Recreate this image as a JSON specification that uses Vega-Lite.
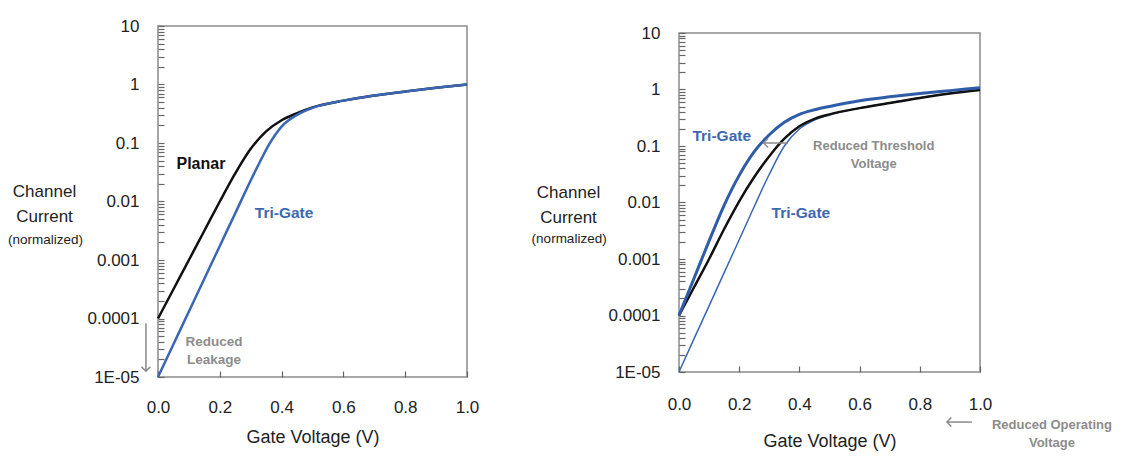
{
  "$schema": "https://vega.github.io/schema/vega-lite/v6.json",
  "padding": {"left": 7, "top": 16, "right": 0, "bottom": 0},
  "background": "white",
  "spacing": 50,
  "resolve": {"scale": {"x": "independent", "y": "independent"}},
  "config": {
    "font": "Liberation Sans",
    "view": {"stroke": "#8a8a8a", "strokeWidth": 1.5},
    "axis": {"domain": false, "grid": false, "ticks": true, "tickColor": "#666666", "tickSize": -6, "tickWidth": 1.2,
      "labelFont": "Liberation Sans", "labelFontSize": 17, "labelColor": "#222222",
      "titleFont": "Liberation Sans", "titleFontWeight": "normal", "titleColor": "#222222",
      "labelOverlap": false, "labelFlush": false},
    "axisX": {"labelPadding": 28, "titleFontSize": 18, "titlePadding": 13},
    "axisY": {"labelPadding": 25, "titleFontSize": 17, "titleAngle": 0, "titleAlign": "center", "titleBaseline": "middle", "titleLineHeight": 25}
  },
  "datasets": {
    "curves": [
      {"panel": "L", "series": "planar", "v": 0, "i": 0.0001},
      {"panel": "L", "series": "planar", "v": 0.05, "i": 0.000316},
      {"panel": "L", "series": "planar", "v": 0.1, "i": 0.001},
      {"panel": "L", "series": "planar", "v": 0.15, "i": 0.00316},
      {"panel": "L", "series": "planar", "v": 0.2, "i": 0.01},
      {"panel": "L", "series": "planar", "v": 0.25, "i": 0.0302},
      {"panel": "L", "series": "planar", "v": 0.3, "i": 0.0794},
      {"panel": "L", "series": "planar", "v": 0.35, "i": 0.158},
      {"panel": "L", "series": "planar", "v": 0.4, "i": 0.245},
      {"panel": "L", "series": "planar", "v": 0.45, "i": 0.324},
      {"panel": "L", "series": "planar", "v": 0.5, "i": 0.407},
      {"panel": "L", "series": "planar", "v": 0.6, "i": 0.53},
      {"panel": "L", "series": "planar", "v": 0.7, "i": 0.65},
      {"panel": "L", "series": "planar", "v": 0.8, "i": 0.76},
      {"panel": "L", "series": "planar", "v": 0.9, "i": 0.88},
      {"panel": "L", "series": "planar", "v": 1.0, "i": 1.0},
      {"panel": "L", "series": "trigate", "v": 0, "i": 0.00001},
      {"panel": "L", "series": "trigate", "v": 0.05, "i": 0.0000363},
      {"panel": "L", "series": "trigate", "v": 0.1, "i": 0.000132},
      {"panel": "L", "series": "trigate", "v": 0.15, "i": 0.000479},
      {"panel": "L", "series": "trigate", "v": 0.2, "i": 0.00174},
      {"panel": "L", "series": "trigate", "v": 0.25, "i": 0.00631},
      {"panel": "L", "series": "trigate", "v": 0.3, "i": 0.0229},
      {"panel": "L", "series": "trigate", "v": 0.33, "i": 0.0479},
      {"panel": "L", "series": "trigate", "v": 0.36, "i": 0.0955},
      {"panel": "L", "series": "trigate", "v": 0.4, "i": 0.191},
      {"panel": "L", "series": "trigate", "v": 0.45, "i": 0.302},
      {"panel": "L", "series": "trigate", "v": 0.5, "i": 0.398},
      {"panel": "L", "series": "trigate", "v": 0.6, "i": 0.53},
      {"panel": "L", "series": "trigate", "v": 0.7, "i": 0.65},
      {"panel": "L", "series": "trigate", "v": 0.8, "i": 0.76},
      {"panel": "L", "series": "trigate", "v": 0.9, "i": 0.88},
      {"panel": "L", "series": "trigate", "v": 1.0, "i": 1.0},
      {"panel": "R", "series": "fast", "v": 0, "i": 0.0001},
      {"panel": "R", "series": "fast", "v": 0.05, "i": 0.000457},
      {"panel": "R", "series": "fast", "v": 0.1, "i": 0.00209},
      {"panel": "R", "series": "fast", "v": 0.15, "i": 0.00891},
      {"panel": "R", "series": "fast", "v": 0.2, "i": 0.0302},
      {"panel": "R", "series": "fast", "v": 0.25, "i": 0.0794},
      {"panel": "R", "series": "fast", "v": 0.3, "i": 0.158},
      {"panel": "R", "series": "fast", "v": 0.35, "i": 0.263},
      {"panel": "R", "series": "fast", "v": 0.4, "i": 0.363},
      {"panel": "R", "series": "fast", "v": 0.45, "i": 0.437},
      {"panel": "R", "series": "fast", "v": 0.5, "i": 0.501},
      {"panel": "R", "series": "fast", "v": 0.6, "i": 0.631},
      {"panel": "R", "series": "fast", "v": 0.7, "i": 0.741},
      {"panel": "R", "series": "fast", "v": 0.8, "i": 0.851},
      {"panel": "R", "series": "fast", "v": 0.9, "i": 0.955},
      {"panel": "R", "series": "fast", "v": 1.0, "i": 1.072},
      {"panel": "R", "series": "black", "v": 0, "i": 0.0001},
      {"panel": "R", "series": "black", "v": 0.05, "i": 0.000316},
      {"panel": "R", "series": "black", "v": 0.1, "i": 0.001},
      {"panel": "R", "series": "black", "v": 0.15, "i": 0.00339},
      {"panel": "R", "series": "black", "v": 0.2, "i": 0.0105},
      {"panel": "R", "series": "black", "v": 0.25, "i": 0.0282},
      {"panel": "R", "series": "black", "v": 0.3, "i": 0.0661},
      {"panel": "R", "series": "black", "v": 0.35, "i": 0.135},
      {"panel": "R", "series": "black", "v": 0.4, "i": 0.224},
      {"panel": "R", "series": "black", "v": 0.45, "i": 0.302},
      {"panel": "R", "series": "black", "v": 0.5, "i": 0.363},
      {"panel": "R", "series": "black", "v": 0.6, "i": 0.468},
      {"panel": "R", "series": "black", "v": 0.7, "i": 0.575},
      {"panel": "R", "series": "black", "v": 0.8, "i": 0.708},
      {"panel": "R", "series": "black", "v": 0.9, "i": 0.851},
      {"panel": "R", "series": "black", "v": 1.0, "i": 0.977},
      {"panel": "R", "series": "slow", "v": 0, "i": 0.00001},
      {"panel": "R", "series": "slow", "v": 0.05, "i": 0.0000389},
      {"panel": "R", "series": "slow", "v": 0.1, "i": 0.000148},
      {"panel": "R", "series": "slow", "v": 0.15, "i": 0.000575},
      {"panel": "R", "series": "slow", "v": 0.2, "i": 0.00219},
      {"panel": "R", "series": "slow", "v": 0.25, "i": 0.00851},
      {"panel": "R", "series": "slow", "v": 0.3, "i": 0.0316},
      {"panel": "R", "series": "slow", "v": 0.35, "i": 0.1},
      {"panel": "R", "series": "slow", "v": 0.4, "i": 0.2},
      {"panel": "R", "series": "slow", "v": 0.45, "i": 0.288},
      {"panel": "R", "series": "slow", "v": 0.5, "i": 0.355},
      {"panel": "R", "series": "slow", "v": 0.6, "i": 0.473},
      {"panel": "R", "series": "slow", "v": 0.7, "i": 0.582},
      {"panel": "R", "series": "slow", "v": 0.8, "i": 0.716},
      {"panel": "R", "series": "slow", "v": 0.9, "i": 0.861},
      {"panel": "R", "series": "slow", "v": 1.0, "i": 0.989}
    ],
    "notes": [
      {"panel": "L", "kind": "black", "text": "Planar", "v": 0.139, "i": 0.044},
      {"panel": "L", "kind": "blue", "text": "Tri-Gate", "v": 0.408, "i": 0.0063},
      {"panel": "L", "kind": "gray", "text": "Reduced\nLeakage", "v": 0.181, "i": 0.000039},
      {"panel": "L", "kind": "small", "text": "(normalized)", "v": -0.364, "i": 0.0022},
      {"panel": "R", "kind": "blue", "text": "Tri-Gate", "v": 0.142, "i": 0.15},
      {"panel": "R", "kind": "blue", "text": "Tri-Gate", "v": 0.405, "i": 0.0065},
      {"panel": "R", "kind": "gray", "text": "Reduced Threshold\nVoltage", "v": 0.647, "i": 0.098},
      {"panel": "R", "kind": "gray", "text": "Reduced Operating\nVoltage", "v": 1.239, "i": 0.00000117},
      {"panel": "R", "kind": "small", "text": "(normalized)", "v": -0.365, "i": 0.0023}
    ],
    "arrows": [
      {"panel": "L", "dir": "down", "v": -0.039, "i": 0.000083, "v2": -0.039, "i2": 0.0000126},
      {"panel": "R", "dir": "left", "v": 0.362, "i": 0.113, "v2": 0.281, "i2": 0.113},
      {"panel": "R", "dir": "left", "v": 0.973, "i": 0.0000013, "v2": 0.89, "i2": 0.0000013}
    ]
  },
  "hconcat": [
    {
      "width": 309,
      "height": 351,
      "encoding": {
        "x": {"field": "v", "type": "quantitative",
          "scale": {"type": "linear", "domain": [0, 1], "nice": false, "zero": false},
          "axis": {"title": "Gate Voltage (V)", "values": [0, 0.2, 0.4, 0.6, 0.8, 1.0], "format": ".1f"}},
        "y": {"field": "i", "type": "quantitative",
          "scale": {"type": "log", "domain": [0.00001, 10], "nice": false},
          "axis": {"title": ["Channel", "Current"], "titleX": -114, "titleY": 165,
            "values": [0.00001,0.00002,0.00003,0.00004,0.00005,0.00006,0.00007,0.00008,0.00009,0.0001,0.0002,0.0003,0.0004,0.0005,0.0006,0.0007,0.0008,0.0009,0.001,0.002,0.003,0.004,0.005,0.006,0.007,0.008,0.009,0.01,0.02,0.03,0.04,0.05,0.06,0.07,0.08,0.09,0.1,0.2,0.3,0.4,0.5,0.6,0.7,0.8,0.9,1,2,3,4,5,6,7,8,9,10],
            "labelExpr": "datum.value == 10 ? '10' : datum.value == 1 ? '1' : datum.value == 0.1 ? '0.1' : datum.value == 0.01 ? '0.01' : datum.value == 0.001 ? '0.001' : datum.value == 0.0001 ? '0.0001' : datum.value == 0.00001 ? '1E-05' : ''"}}
      },
      "layer": [
        {"data": {"name": "curves"}, "transform": [{"filter": "datum.panel == 'L' && datum.series == 'planar'"}],
          "mark": {"type": "line", "color": "#111111", "strokeWidth": 2.5, "interpolate": "monotone"}},
        {"data": {"name": "curves"}, "transform": [{"filter": "datum.panel == 'L' && datum.series == 'trigate'"}],
          "mark": {"type": "line", "color": "#3a66b3", "strokeWidth": 2.5, "interpolate": "monotone"}},
        {"data": {"name": "arrows"}, "transform": [{"filter": "datum.panel == 'L'"}],
          "mark": {"type": "rule", "color": "#8a8a8a", "strokeWidth": 1.5},
          "encoding": {"x2": {"field": "v2"}, "y2": {"field": "i2"}}},
        {"data": {"name": "arrows"}, "transform": [{"filter": "datum.panel == 'L'"}],
          "mark": {"type": "point", "filled": false, "stroke": "#8a8a8a", "strokeWidth": 1.5, "size": 80, "opacity": 1},
          "encoding": {"x": {"field": "v2", "type": "quantitative"}, "y": {"field": "i2", "type": "quantitative"},
            "shape": {"field": "dir", "type": "nominal", "scale": {"domain": ["down", "left"], "range": ["M-1,-1L0,0L1,-1", "M1,-1L0,0L1,1"]}, "legend": null}}},
        {"data": {"name": "notes"}, "transform": [{"filter": "datum.panel == 'L' && datum.kind == 'black'"}],
          "mark": {"type": "text", "color": "#111111", "fontWeight": "bold", "fontSize": 16, "font": "Liberation Sans"},
          "encoding": {"text": {"field": "text"}}},
        {"data": {"name": "notes"}, "transform": [{"filter": "datum.panel == 'L' && datum.kind == 'blue'"}],
          "mark": {"type": "text", "color": "#3d68b0", "fontWeight": "bold", "fontSize": 15.5, "font": "Liberation Sans"},
          "encoding": {"text": {"field": "text"}}},
        {"data": {"name": "notes"}, "transform": [{"filter": "datum.panel == 'L' && datum.kind == 'gray'"}],
          "mark": {"type": "text", "color": "#8c8c8c", "fontWeight": "bold", "fontSize": 13.5, "lineHeight": 18, "lineBreak": "\n", "font": "Liberation Sans"},
          "encoding": {"text": {"field": "text"}}},
        {"data": {"name": "notes"}, "transform": [{"filter": "datum.panel == 'L' && datum.kind == 'small'"}],
          "mark": {"type": "text", "color": "#222222", "fontSize": 13.5, "font": "Liberation Sans"},
          "encoding": {"text": {"field": "text"}}}
      ]
    },
    {
      "spacing": -9,
      "vconcat": [
        {
          "width": 301,
          "height": 1,
          "view": {"stroke": null},
          "data": {"values": [{"t": ""}]},
          "mark": {"type": "text"},
          "encoding": {"text": {"field": "t"}}
        },
        {
          "width": 301,
          "height": 339,
          "encoding": {
            "x": {"field": "v", "type": "quantitative",
              "scale": {"type": "linear", "domain": [0, 1], "nice": false, "zero": false},
              "axis": {"title": "Gate Voltage (V)", "labelPadding": 30, "titlePadding": 20, "values": [0, 0.2, 0.4, 0.6, 0.8, 1.0], "format": ".1f"}},
            "y": {"field": "i", "type": "quantitative",
              "scale": {"type": "log", "domain": [0.00001, 10], "nice": false},
              "axis": {"title": ["Channel", "Current"], "titleX": -111, "titleY": 159,
                "values": [0.00001,0.00002,0.00003,0.00004,0.00005,0.00006,0.00007,0.00008,0.00009,0.0001,0.0002,0.0003,0.0004,0.0005,0.0006,0.0007,0.0008,0.0009,0.001,0.002,0.003,0.004,0.005,0.006,0.007,0.008,0.009,0.01,0.02,0.03,0.04,0.05,0.06,0.07,0.08,0.09,0.1,0.2,0.3,0.4,0.5,0.6,0.7,0.8,0.9,1,2,3,4,5,6,7,8,9,10],
                "labelExpr": "datum.value == 10 ? '10' : datum.value == 1 ? '1' : datum.value == 0.1 ? '0.1' : datum.value == 0.01 ? '0.01' : datum.value == 0.001 ? '0.001' : datum.value == 0.0001 ? '0.0001' : datum.value == 0.00001 ? '1E-05' : ''"}}
          },
          "layer": [
            {"data": {"name": "curves"}, "transform": [{"filter": "datum.panel == 'R' && datum.series == 'slow'"}],
              "mark": {"type": "line", "color": "#3a66b3", "strokeWidth": 1.5, "interpolate": "monotone"}},
            {"data": {"name": "curves"}, "transform": [{"filter": "datum.panel == 'R' && datum.series == 'black'"}],
              "mark": {"type": "line", "color": "#111111", "strokeWidth": 2.5, "interpolate": "monotone"}},
            {"data": {"name": "curves"}, "transform": [{"filter": "datum.panel == 'R' && datum.series == 'fast'"}],
              "mark": {"type": "line", "color": "#2f5ca8", "strokeWidth": 3, "interpolate": "monotone"}},
            {"data": {"name": "arrows"}, "transform": [{"filter": "datum.panel == 'R'"}],
              "mark": {"type": "rule", "color": "#8a8a8a", "strokeWidth": 1.5},
              "encoding": {"x2": {"field": "v2"}, "y2": {"field": "i2"}}},
            {"data": {"name": "arrows"}, "transform": [{"filter": "datum.panel == 'R'"}],
              "mark": {"type": "point", "filled": false, "stroke": "#8a8a8a", "strokeWidth": 1.5, "size": 80, "opacity": 1},
              "encoding": {"x": {"field": "v2", "type": "quantitative"}, "y": {"field": "i2", "type": "quantitative"},
                "shape": {"field": "dir", "type": "nominal", "scale": {"domain": ["down", "left"], "range": ["M-1,-1L0,0L1,-1", "M1,-1L0,0L1,1"]}, "legend": null}}},
            {"data": {"name": "notes"}, "transform": [{"filter": "datum.panel == 'R' && datum.kind == 'blue'"}],
              "mark": {"type": "text", "color": "#3d68b0", "fontWeight": "bold", "fontSize": 15.5, "font": "Liberation Sans"},
              "encoding": {"text": {"field": "text"}}},
            {"data": {"name": "notes"}, "transform": [{"filter": "datum.panel == 'R' && datum.kind == 'gray'"}],
              "mark": {"type": "text", "color": "#8c8c8c", "fontWeight": "bold", "fontSize": 13, "lineHeight": 18, "lineBreak": "\n", "font": "Liberation Sans"},
              "encoding": {"text": {"field": "text"}}},
            {"data": {"name": "notes"}, "transform": [{"filter": "datum.panel == 'R' && datum.kind == 'small'"}],
              "mark": {"type": "text", "color": "#222222", "fontSize": 13.5, "font": "Liberation Sans"},
              "encoding": {"text": {"field": "text"}}}
          ]
        }
      ]
    }
  ]
}
